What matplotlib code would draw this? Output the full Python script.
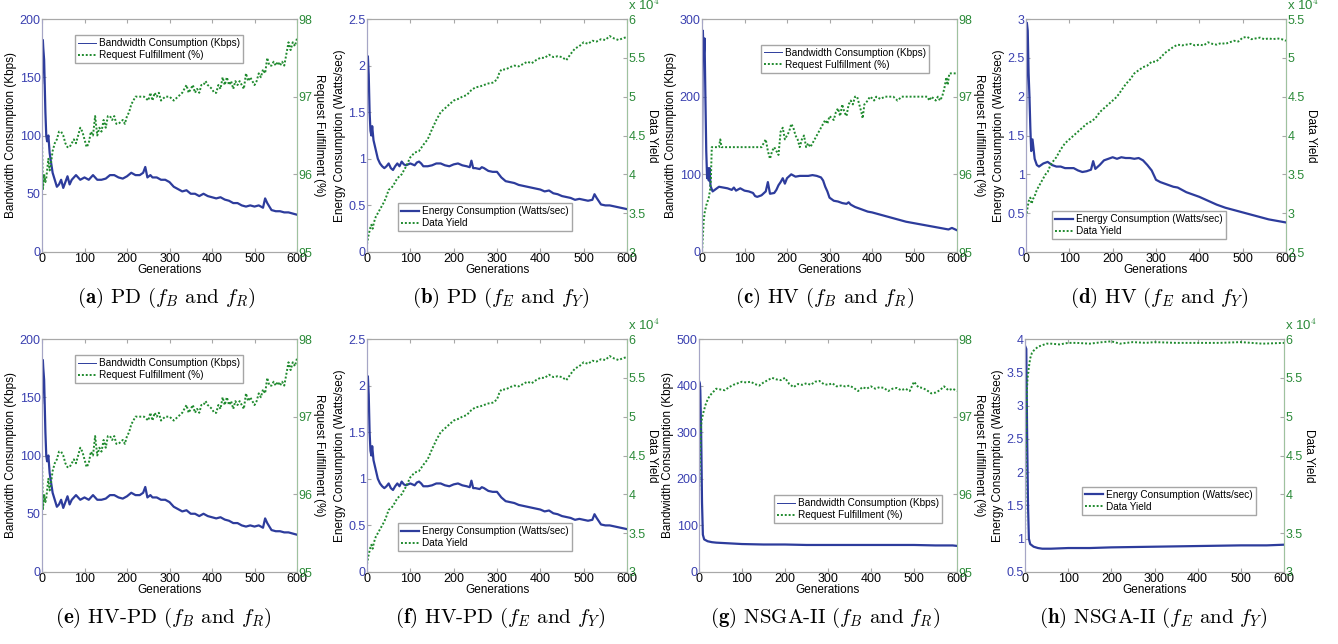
import matplotlib
matplotlib.use('Agg')
import matplotlib.pyplot as plt
from matplotlib.lines import Line2D

plt.rcParams['font.family'] = ['Liberation Sans', 'DejaVu Sans']
plt.rcParams['mathtext.fontset'] = 'cm'

# (generation, value) samples
pd_bw = [(0,145),(2,182),(3,175),(5,165),(8,120),(10,100),(12,95),(15,100),(18,85),(20,80),(25,68),
         (30,62),(35,56),(40,58),(45,62),(50,55),(55,60),(60,65),(65,58),(70,62),(75,64),(80,66),
         (90,62),(100,64),(110,62),(120,66),(130,62),(140,62),(150,63),(160,66),(170,66),(180,64),
         (190,63),(200,65),(210,68),(220,66),(230,66),(238,68),(243,73),(248,64),(255,66),(260,64),
         (270,64),(280,62),(290,62),(300,60),(310,56),(320,54),(330,52),(340,53),(350,50),(360,50),
         (370,48),(380,50),(390,48),(400,47),(410,46),(420,47),(430,45),(440,44),(450,42),(460,42),
         (470,40),(480,39),(490,40),(500,39),(510,40),(520,38),(525,46),(530,42),(540,36),(550,35),
         (560,35),(570,34),(580,34),(590,33),(600,32)]
pd_req = [(0,96.45),(2,95.8),(5,96.0),(8,95.9),(10,95.95),(15,96.2),(18,96.05),(20,96.1),(25,96.3),
          (30,96.4),(35,96.45),(40,96.55),(45,96.55),(50,96.5),(55,96.4),(60,96.35),(65,96.35),
          (70,96.4),(75,96.45),(80,96.4),(90,96.6),(95,96.55),(100,96.45),(105,96.35),(110,96.4),
          (115,96.55),(120,96.5),(125,96.75),(130,96.5),(135,96.6),(140,96.55),(145,96.7),(150,96.6),
          (155,96.75),(160,96.75),(165,96.7),(170,96.75),(175,96.65),(180,96.65),(190,96.7),
          (195,96.65),(200,96.75),(205,96.8),(210,96.9),(215,96.95),(220,97.0),(230,97.0),(240,97.0),
          (250,96.95),(255,97.05),(260,96.95),(265,97.05),(270,97.0),(275,97.05),(280,96.95),
          (290,97.0),(300,97.0),(310,96.95),(320,97.0),(330,97.05),(335,97.1),(340,97.15),
          (345,97.05),(350,97.1),(355,97.15),(360,97.05),(365,97.1),(370,97.05),(375,97.15),
          (380,97.15),(385,97.2),(390,97.15),(400,97.1),(405,97.05),(410,97.05),(415,97.15),
          (420,97.1),(425,97.25),(430,97.15),(435,97.25),(440,97.15),(445,97.2),(450,97.1),
          (455,97.2),(460,97.15),(465,97.2),(470,97.15),(475,97.1),(480,97.3),(485,97.2),(490,97.25),
          (495,97.2),(500,97.15),(505,97.2),(510,97.3),(515,97.25),(520,97.35),(525,97.3),(530,97.5),
          (535,97.4),(540,97.4),(545,97.45),(550,97.4),(555,97.45),(560,97.4),(565,97.45),(570,97.4),
          (575,97.55),(580,97.7),(585,97.6),(590,97.7),(595,97.65),(600,97.75)]

pd_energy = [(0,1.75),(2,2.1),(4,1.9),(6,1.5),(8,1.3),(10,1.25),(12,1.35),(15,1.2),(20,1.1),(25,1.0),
             (30,0.95),(35,0.92),(40,0.9),(45,0.92),(50,0.95),(55,0.9),(60,0.88),(65,0.92),(70,0.95),
             (75,0.92),(80,0.97),(85,0.94),(90,0.93),(100,0.95),(110,0.93),(115,0.96),(120,0.97),
             (125,0.95),(130,0.92),(140,0.92),(150,0.93),(160,0.95),(170,0.95),(180,0.93),(190,0.92),
             (200,0.94),(210,0.95),(220,0.93),(230,0.92),(237,0.91),(241,0.98),(245,0.9),(250,0.9),
             (260,0.89),(265,0.91),(270,0.9),(280,0.87),(290,0.86),(300,0.86),(310,0.8),(320,0.76),
             (330,0.75),(340,0.74),(350,0.72),(360,0.71),(370,0.7),(380,0.69),(390,0.68),(400,0.67),
             (410,0.65),(420,0.66),(430,0.63),(440,0.62),(450,0.6),(460,0.59),(470,0.58),(480,0.56),
             (490,0.57),(500,0.56),(510,0.55),(520,0.56),(525,0.62),(530,0.58),(540,0.51),(550,0.5),
             (560,0.5),(570,0.49),(580,0.48),(590,0.47),(600,0.46)]
pd_yield = [(0,3.1),(3,3.2),(5,3.25),(8,3.32),(10,3.35),(13,3.3),(16,3.38),(20,3.45),(25,3.5),
            (30,3.55),(35,3.6),(40,3.65),(45,3.72),(50,3.8),(55,3.82),(60,3.85),(70,3.95),(80,4.0),
            (90,4.1),(100,4.22),(110,4.28),(120,4.3),(130,4.38),(140,4.45),(150,4.58),(160,4.7),
            (170,4.8),(180,4.85),(190,4.9),(200,4.95),(210,4.97),(220,5.0),(230,5.02),(240,5.08),
            (250,5.12),(260,5.13),(270,5.15),(280,5.17),(290,5.18),(300,5.22),(305,5.3),(310,5.35),
            (320,5.35),(330,5.38),(340,5.4),(350,5.39),(360,5.42),(370,5.45),(380,5.43),(390,5.47),
            (400,5.5),(410,5.5),(420,5.54),(430,5.51),(440,5.52),(450,5.51),(460,5.47),(470,5.55),
            (480,5.62),(490,5.65),(500,5.7),(510,5.68),(520,5.72),(530,5.71),(540,5.74),(550,5.73),
            (560,5.78),(570,5.75),(580,5.73),(590,5.75),(600,5.77)]

hv_bw = [(0,120),(2,285),(4,250),(6,275),(8,200),(10,130),(12,95),(14,108),(16,92),(18,108),(20,85),
         (25,78),(30,80),(35,82),(40,84),(50,83),(60,82),(70,80),(75,83),(80,79),(90,82),(100,79),
         (110,78),(120,76),(125,72),(130,71),(140,73),(150,78),(155,90),(160,75),(170,76),(175,80),
         (180,86),(185,90),(190,95),(195,88),(200,95),(210,100),(220,97),(230,98),(240,98),(250,98),
         (260,99),(270,98),(280,96),(285,92),(290,84),(295,78),(300,70),(310,66),(320,65),(330,63),
         (340,62),(345,64),(350,61),(360,58),(370,56),(380,54),(390,52),(400,51),(420,48),(440,45),
         (460,42),(480,39),(500,37),(520,35),(540,33),(560,31),(580,29),(588,31),(600,28)]
hv_req = [(0,95.0),(2,95.2),(4,95.4),(6,95.5),(8,95.55),(10,95.6),(13,95.65),(16,95.7),(19,95.8),
          (21,95.95),(23,96.35),(30,96.35),(40,96.35),(43,96.45),(46,96.35),(60,96.35),(100,96.35),
          (140,96.35),(145,96.4),(150,96.45),(155,96.3),(160,96.2),(165,96.3),(170,96.35),(175,96.3),
          (180,96.25),(185,96.55),(190,96.6),(195,96.45),(200,96.5),(205,96.55),(210,96.65),
          (215,96.6),(220,96.5),(225,96.45),(230,96.35),(235,96.45),(240,96.5),(245,96.35),
          (250,96.4),(255,96.35),(260,96.4),(270,96.5),(280,96.6),(290,96.7),(295,96.65),(300,96.75),
          (310,96.7),(315,96.8),(320,96.85),(325,96.75),(330,96.9),(335,96.8),(340,96.75),(345,96.9),
          (350,96.95),(355,96.9),(360,97.0),(365,97.0),(370,96.9),(375,96.8),(378,96.72),(382,96.9),
          (390,96.95),(395,97.0),(400,96.98),(405,96.95),(410,97.0),(420,96.97),(430,97.0),
          (440,97.0),(450,97.0),(460,96.95),(470,97.0),(480,97.0),(500,97.0),(520,97.0),(530,97.0),
          (535,96.95),(540,97.0),(550,96.95),(555,97.0),(560,96.95),(565,97.0),(570,97.1),
          (575,97.25),(578,97.15),(582,97.3),(590,97.3),(600,97.3)]

hv_energy = [(0,1.5),(2,2.95),(4,2.85),(6,2.3),(8,2.0),(10,1.6),(12,1.3),(15,1.45),(18,1.3),(20,1.2),
             (25,1.12),(30,1.1),(40,1.14),(50,1.16),(60,1.12),(70,1.1),(80,1.1),(90,1.08),(100,1.08),
             (110,1.08),(120,1.05),(130,1.03),(140,1.04),(150,1.06),(155,1.17),(160,1.07),(170,1.12),
             (180,1.18),(190,1.2),(200,1.22),(210,1.2),(220,1.22),(230,1.21),(240,1.21),(250,1.2),
             (260,1.21),(270,1.18),(280,1.12),(290,1.05),(300,0.93),(310,0.9),(320,0.88),(330,0.86),
             (340,0.84),(350,0.83),(360,0.8),(370,0.77),(380,0.75),(390,0.73),(400,0.71),(420,0.66),
             (440,0.61),(460,0.57),(480,0.54),(500,0.51),(520,0.48),(540,0.45),(560,0.42),(580,0.4),
             (600,0.38)]
hv_yield = [(0,2.95),(3,3.05),(6,3.15),(10,3.2),(13,3.12),(16,3.18),(20,3.22),(25,3.3),(30,3.35),
            (35,3.4),(40,3.45),(45,3.5),(50,3.53),(55,3.6),(60,3.65),(70,3.72),(80,3.82),(90,3.9),
            (100,3.95),(110,4.0),(120,4.05),(130,4.1),(140,4.15),(150,4.18),(160,4.22),(170,4.3),
            (180,4.35),(190,4.4),(200,4.45),(210,4.5),(220,4.58),(230,4.66),(240,4.72),(250,4.8),
            (260,4.84),(270,4.88),(280,4.9),(290,4.95),(300,4.95),(310,5.0),(320,5.06),(330,5.1),
            (340,5.14),(350,5.17),(360,5.16),(370,5.17),(380,5.18),(390,5.16),(400,5.17),(410,5.16),
            (420,5.2),(430,5.18),(440,5.17),(450,5.19),(460,5.18),(470,5.2),(480,5.22),(490,5.21),
            (500,5.26),(510,5.27),(520,5.24),(530,5.25),(540,5.26),(550,5.24),(560,5.25),(570,5.24),
            (580,5.25),(590,5.24),(600,5.22)]

ns_bw = [(0,410),(2,405),(3,390),(5,300),(7,150),(9,80),(12,70),(20,66),(30,64),(40,63),(60,62),
         (80,61),(100,60),(150,59),(200,59),(250,58),(300,58),(350,58),(400,58),(450,58),(500,58),
         (550,57),(590,57),(600,56)]
ns_req = [(0,96.0),(2,96.4),(4,96.8),(6,96.95),(10,97.05),(15,97.15),(20,97.22),(25,97.27),(30,97.3),
          (35,97.33),(40,97.36),(50,97.35),(60,97.34),(70,97.38),(80,97.41),(90,97.43),(100,97.45),
          (110,97.44),(120,97.45),(130,97.42),(140,97.4),(150,97.44),(160,97.47),(170,97.5),
          (180,97.48),(190,97.47),(200,97.5),(210,97.42),(220,97.38),(230,97.42),(240,97.41),
          (250,97.43),(260,97.41),(270,97.45),(280,97.46),(290,97.42),(300,97.41),(310,97.43),
          (320,97.39),(330,97.4),(340,97.39),(350,97.4),(360,97.37),(370,97.33),(380,97.38),
          (390,97.36),(400,97.39),(410,97.36),(420,97.38),(430,97.37),(440,97.33),(450,97.36),
          (460,97.37),(470,97.34),(480,97.36),(490,97.33),(500,97.45),(510,97.38),(520,97.37),
          (530,97.34),(540,97.3),(550,97.31),(560,97.34),(570,97.39),(580,97.34),(590,97.36),
          (600,97.33)]

ns_energy = [(0,3.9),(3,3.85),(5,2.5),(7,1.5),(9,1.0),(12,0.92),(20,0.88),(30,0.86),(40,0.85),
             (60,0.85),(100,0.86),(150,0.86),(200,0.87),(300,0.88),(400,0.89),(500,0.9),(560,0.9),
             (600,0.91)]
ns_yield = [(0,3.4),(2,4.5),(4,5.3),(6,5.5),(8,5.6),(12,5.75),(16,5.82),(20,5.85),(30,5.9),(40,5.92),
            (50,5.94),(60,5.94),(80,5.93),(100,5.95),(120,5.95),(150,5.94),(180,5.96),(200,5.97),
            (220,5.94),(250,5.96),(280,5.95),(300,5.96),(350,5.95),(400,5.95),(450,5.95),(500,5.96),
            (550,5.94),(600,5.95)]

BLUE = '#2d3c9c'
GREEN = '#1f8a2e'
BLUE_TXT = '#3a40b0'
GREEN_TXT = '#2a8a38'
SPINE = '#a8a8a8'

W, H = 1338, 644
fig = plt.figure(figsize=(W / 100, H / 100), dpi=100)


def fmt(v):
    return f'{v:g}'


def panel(px, left_ser, right_ser, ylim_l, yt_l, ylim_r, yt_r, lab_l, lab_r,
          leg_labels, leg_pos, thin_first, caption, cap_x, cap_y, exponent=False):
    x0, y0, x1, y1 = px
    ax = fig.add_axes([x0 / W, 1 - y1 / H, (x1 - x0) / W, (y1 - y0) / H])
    ax2 = ax.twinx()

    gx, gy = zip(*left_ser)
    ax.plot(gx, gy, color=BLUE, lw=1.6, zorder=3)
    rx, ry = zip(*right_ser)
    ax2.plot(rx, ry, color=GREEN, lw=1.4, ls=(0, (1, 1)))

    ax.set_xlim(0, 600)
    ax.set_xticks(range(0, 601, 100))
    ax.set_ylim(*ylim_l)
    ax.set_yticks(yt_l)
    ax.set_yticklabels([fmt(v) for v in yt_l])
    ax2.set_ylim(*ylim_r)
    ax2.set_yticks(yt_r)
    ax2.set_yticklabels([fmt(v) for v in yt_r])

    ax.tick_params(axis='x', direction='in', length=3, top=True, labelsize=9,
                   pad=1, color=SPINE)
    ax.tick_params(axis='y', direction='in', length=3, labelsize=9, pad=1,
                   colors=BLUE_TXT, color=SPINE)
    ax2.tick_params(axis='y', direction='in', length=3, labelsize=9, pad=1,
                    colors=GREEN_TXT, color=SPINE)
    for a in (ax, ax2):
        for s in a.spines.values():
            s.set_color(SPINE)
            s.set_linewidth(0.8)
    ax2.spines['right'].set_color('#9fc29f')
    ax2.spines['left'].set_color('#a6a6c6')

    ax.set_xlabel('Generations', fontsize=8.5, labelpad=-1)
    ax.set_ylabel(lab_l, fontsize=8.5, labelpad=2)
    ax2.set_ylabel(lab_r, fontsize=8.5, rotation=270, labelpad=9)

    if exponent:
        ax2.text(1.005, 1.025, r'x 10$^4$', transform=ax2.transAxes, ha='left',
                 va='bottom', fontsize=9.5, color=GREEN_TXT)

    handles = [Line2D([], [], color=BLUE, lw=0.7 if thin_first else 1.6),
               Line2D([], [], color=GREEN, lw=1.4, ls=(0, (1, 1)))]
    ax2.legend(handles, leg_labels, loc='lower left', bbox_to_anchor=leg_pos,
               fontsize=7.2, frameon=True, fancybox=False, edgecolor='#909090',
               borderpad=0.3, labelspacing=0.2, handlelength=1.8, handletextpad=0.3,
               borderaxespad=0)

    fig.text(cap_x / W, 1 - cap_y / H, caption, ha='center', va='center', fontsize=15,
             family='cmr10')


bw_lab = 'Bandwidth Consumption (Kbps)'
req_lab = 'Request Fulfillment (%)'
en_lab = 'Energy Consumption (Watts/sec)'
dy_lab = 'Data Yield'
leg_br = ['Bandwidth Consumption (Kbps)', 'Request Fulfillment (%)']
leg_ey = ['Energy Consumption (Watts/sec)', 'Data Yield']

panel((42, 19, 297, 252), pd_bw, pd_req, (0, 200), [0, 50, 100, 150, 200], (95, 98), [95, 96, 97, 98],
      bw_lab, req_lab, leg_br, (0.13, 0.81), True,
      r'$\mathbf{(a)}$ PD ($f_B$ and $f_R$)', 166, 298)
panel((367, 19, 627, 252), pd_energy, pd_yield, (0, 2.5), [0, 0.5, 1, 1.5, 2, 2.5], (3, 6),
      [3, 3.5, 4, 4.5, 5, 5.5, 6], en_lab, dy_lab, leg_ey, (0.12, 0.09), False,
      r'$\mathbf{(b)}$ PD ($f_E$ and $f_Y$)', 501, 298, exponent=True)
panel((702, 19, 957, 252), hv_bw, hv_req, (0, 300), [0, 100, 200, 300], (95, 98), [95, 96, 97, 98],
      bw_lab, req_lab, leg_br, (0.23, 0.77), True,
      r'$\mathbf{(c)}$ HV ($f_B$ and $f_R$)', 825, 298)
panel((1026, 19, 1286, 252), hv_energy, hv_yield, (0, 3), [0, 0.5, 1, 1.5, 2, 2.5, 3], (2.5, 5.5),
      [2.5, 3, 3.5, 4, 4.5, 5, 5.5], en_lab, dy_lab, leg_ey, (0.10, 0.055), False,
      r'$\mathbf{(d)}$ HV ($f_E$ and $f_Y$)', 1159, 298, exponent=True)

panel((42, 339, 297, 572), pd_bw, pd_req, (0, 200), [0, 50, 100, 150, 200], (95, 98), [95, 96, 97, 98],
      bw_lab, req_lab, leg_br, (0.13, 0.81), True,
      r'$\mathbf{(e)}$ HV-PD ($f_B$ and $f_R$)', 163, 618)
panel((367, 339, 627, 572), pd_energy, pd_yield, (0, 2.5), [0, 0.5, 1, 1.5, 2, 2.5], (3, 6),
      [3, 3.5, 4, 4.5, 5, 5.5, 6], en_lab, dy_lab, leg_ey, (0.12, 0.09), False,
      r'$\mathbf{(f)}$ HV-PD ($f_E$ and $f_Y$)', 500, 618, exponent=True)
panel((699, 339, 957, 572), ns_bw, ns_req, (0, 500), [0, 100, 200, 300, 400, 500], (95, 98),
      [95, 96, 97, 98], bw_lab, req_lab, leg_br, (0.29, 0.21), True,
      r'$\mathbf{(g)}$ NSGA-II ($f_B$ and $f_R$)', 825, 618)
panel((1025, 339, 1284, 572), ns_energy, ns_yield, (0.5, 4), [0.5, 1, 1.5, 2, 2.5, 3, 3.5, 4], (3, 6),
      [3, 3.5, 4, 4.5, 5, 5.5, 6], en_lab, dy_lab, leg_ey, (0.22, 0.245), False,
      r'$\mathbf{(h)}$ NSGA-II ($f_E$ and $f_Y$)', 1153, 618, exponent=True)

fig.savefig('out.png', dpi=100)
plt.close(fig)
